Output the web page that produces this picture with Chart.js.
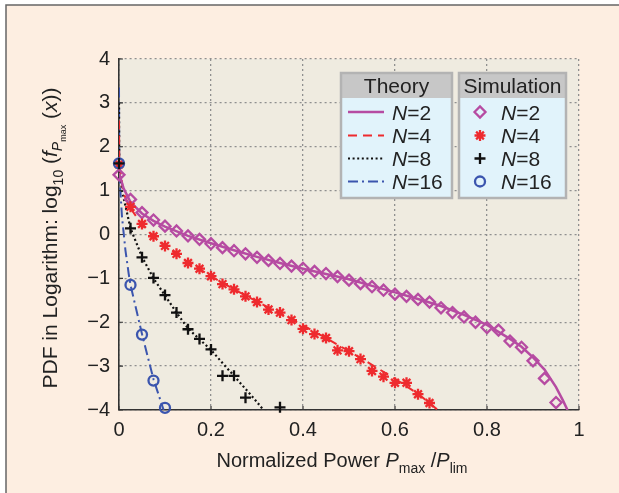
<!DOCTYPE html>
<html>
<head>
<meta charset="utf-8">
<script src="https://cdn.jsdelivr.net/npm/chart.js@4/dist/chart.umd.min.js"></script>
<style>
html, body { margin: 0; padding: 0; background: #fff; }
#wrap { position: relative; width: 619px; height: 493px; }
</style>
</head>
<body>
<div id="wrap"><canvas id="chart"></canvas></div>
<script>
// theory curves (log10 of pdf)
const theoryX2 = [0, 0.01, 0.025, 0.05, 0.075, 0.1, 0.15, 0.2, 0.25, 0.3, 0.35, 0.4, 0.45, 0.5, 0.55, 0.6, 0.65, 0.7, 0.75, 0.8, 0.85, 0.875, 0.9, 0.925, 0.95, 0.965, 0.975];
const theoryY2 = [1.4, 1.05, 0.74, 0.48, 0.31, 0.18, -0.03, -0.2, -0.36, -0.51, -0.65, -0.78, -0.9, -1.02, -1.17, -1.32, -1.47, -1.63, -1.83, -2.06, -2.38, -2.56, -2.8, -3.08, -3.48, -3.78, -4.0];
const theoryX4 = [0, 0.0005, 0.01, 0.025, 0.05, 0.075, 0.1, 0.15, 0.2, 0.25, 0.3, 0.35, 0.4, 0.45, 0.5, 0.55, 0.6, 0.65, 0.693];
const theoryY4 = [2.6, 1.62, 0.93, 0.6, 0.22, -0.05, -0.27, -0.63, -0.95, -1.25, -1.53, -1.8, -2.07, -2.36, -2.66, -2.97, -3.29, -3.63, -4.0];
const theoryX8 = [0, 0.0005, 0.0065, 0.025, 0.05, 0.075, 0.1, 0.125, 0.15, 0.175, 0.2, 0.225, 0.25, 0.275, 0.3, 0.314];
const theoryY8 = [3.0, 1.62, 1.0, 0.14, -0.51, -1.0, -1.39, -1.78, -2.14, -2.39, -2.63, -2.93, -3.22, -3.52, -3.82, -4.0];
const theoryX16 = [0, 0.0005, 0.003, 0.0065, 0.014, 0.021, 0.025, 0.05, 0.075, 0.097];
const theoryY16 = [3.35, 1.62, 1.0, 0.4, -0.36, -0.89, -1.15, -2.27, -3.3, -4.0];

// simulation points
const simX2 = [0, 0.025, 0.05, 0.075, 0.1, 0.125, 0.15, 0.175, 0.2, 0.225, 0.25, 0.275, 0.3, 0.325, 0.35, 0.375, 0.4, 0.425, 0.45, 0.475, 0.5, 0.525, 0.55, 0.575, 0.6, 0.625, 0.65, 0.675, 0.7, 0.725, 0.75, 0.775, 0.8, 0.825, 0.85, 0.875, 0.9, 0.925, 0.95];
const simY2 = [1.36, 0.8, 0.5, 0.33, 0.19, 0.08, -0.03, -0.11, -0.21, -0.3, -0.37, -0.44, -0.52, -0.59, -0.66, -0.72, -0.77, -0.84, -0.89, -0.96, -1.04, -1.12, -1.19, -1.27, -1.36, -1.41, -1.48, -1.54, -1.67, -1.78, -1.88, -2.0, -2.12, -2.18, -2.43, -2.57, -2.88, -3.28, -3.83];
const simX4 = [0, 0.025, 0.05, 0.075, 0.1, 0.125, 0.15, 0.175, 0.2, 0.225, 0.25, 0.275, 0.3, 0.325, 0.35, 0.375, 0.4, 0.425, 0.45, 0.475, 0.5, 0.525, 0.55, 0.575, 0.6, 0.625, 0.65, 0.675];
const simY4 = [1.6, 0.63, 0.24, -0.04, -0.26, -0.44, -0.65, -0.78, -0.95, -1.13, -1.25, -1.41, -1.54, -1.71, -1.78, -1.95, -2.15, -2.27, -2.36, -2.64, -2.66, -2.84, -3.11, -3.24, -3.38, -3.38, -3.64, -3.84];
const simX8 = [0, 0.025, 0.05, 0.075, 0.1, 0.125, 0.15, 0.175, 0.2, 0.225, 0.25, 0.275, 0.35];
const simY8 = [1.62, 0.14, -0.52, -0.99, -1.38, -1.78, -2.16, -2.38, -2.62, -3.22, -3.22, -3.72, -3.94];
const simX16 = [0, 0.025, 0.05, 0.075, 0.1];
const simY16 = [1.62, -1.15, -2.28, -3.33, -3.95];

const nLabels = ["2", "4", "8", "16"];
const xTicks = [0, 0.2, 0.4, 0.6, 0.8, 1];
const yTicks = [-4, -3, -2, -1, 0, 1, 2, 3, 4];

const colMag = "#b64ba2";
const colRed = "#ee2a2e";
const colBlk = "#111111";
const colBlu = "#3b55ae";
const FONT = '"Liberation Sans", Arial, sans-serif';

function pts(xs, ys) {
  return xs.map((x, i) => ({ x: x, y: ys[i] }));
}

const theorySets = [
  { data: pts(theoryX2, theoryY2), borderColor: colMag, borderWidth: 2.5, borderDash: [] },
  { data: pts(theoryX4, theoryY4), borderColor: colRed, borderWidth: 2, borderDash: [9, 6] },
  { data: pts(theoryX8, theoryY8), borderColor: colBlk, borderWidth: 2.2, borderDash: [2, 2.6] },
  { data: pts(theoryX16, theoryY16), borderColor: colBlu, borderWidth: 2, borderDash: [10, 4, 2, 4] }
].map(d => Object.assign(d, { showLine: true, pointRadius: 0, fill: false, order: 10, tension: 0 }));

// lower order is drawn on top: plus, then circle, then star, then diamond
const simSets = [
  { data: pts(simX2, simY2), borderColor: colMag, pointStyle: "rectRot", pointRadius: 5.5, order: 4 },
  { data: pts(simX4, simY4), borderColor: colRed, pointStyle: "star", pointRadius: 5.5, order: 3 },
  { data: pts(simX8, simY8), borderColor: colBlk, pointStyle: "cross", pointRadius: 5.5, order: 1 },
  { data: pts(simX16, simY16), borderColor: colBlu, pointStyle: "circle", pointRadius: 5, order: 2 }
].map(d => Object.assign(d, { showLine: false, backgroundColor: "rgba(0,0,0,0)", pointBorderWidth: 2.3, pointBorderColor: d.borderColor, clip: false }));

// draw text made of runs (italic, subscripts)
function runsWidth(ctx, runs) {
  let w = 0;
  runs.forEach(r => {
    ctx.font = (r.it ? "italic " : "") + r.s + "px " + FONT;
    w += ctx.measureText(r.t).width;
  });
  return w;
}
function drawRuns(ctx, runs, x, y) {
  runs.forEach(r => {
    ctx.font = (r.it ? "italic " : "") + r.s + "px " + FONT;
    ctx.fillText(r.t, x, y + (r.dy || 0));
    x += ctx.measureText(r.t).width;
  });
}

const framePlugin = {
  id: "frame",
  beforeDraw(chart) {
    const ctx = chart.ctx, a = chart.chartArea;
    ctx.save();
    ctx.fillStyle = "#ffffff";
    ctx.fillRect(0, 0, chart.width, chart.height);
    ctx.fillStyle = "#fdeee1";
    ctx.fillRect(6, 5, chart.width, chart.height);
    ctx.strokeStyle = "#666";
    ctx.lineWidth = 1.5;
    ctx.strokeRect(6, 5, chart.width + 10, chart.height + 10);
    ctx.fillStyle = "#efebe0";
    ctx.fillRect(a.left, a.top, a.right - a.left, a.bottom - a.top);
    ctx.restore();
  },
  afterDraw(chart) {
    const ctx = chart.ctx, a = chart.chartArea;
    const xs = chart.scales.x, ys = chart.scales.y;
    ctx.save();
    // inward tick marks
    ctx.strokeStyle = "#333";
    ctx.lineWidth = 1.2;
    ctx.beginPath();
    yTicks.forEach(v => {
      const y = ys.getPixelForValue(v);
      ctx.moveTo(a.left, y); ctx.lineTo(a.left + 4, y);
    });
    xTicks.forEach(v => {
      const x = xs.getPixelForValue(v);
      ctx.moveTo(x, a.bottom); ctx.lineTo(x, a.bottom - 4);
    });
    ctx.stroke();

    // axis titles
    ctx.fillStyle = "#222";
    ctx.textBaseline = "alphabetic";
    ctx.textAlign = "left";
    const xt = [
      { t: "Normalized Power ", s: 20 },
      { t: "P", s: 20, it: true },
      { t: "max", s: 14, dy: 6 },
      { t: " /", s: 20 },
      { t: "P", s: 20, it: true },
      { t: "lim", s: 14, dy: 6 }
    ];
    const xw = runsWidth(ctx, xt);
    drawRuns(ctx, xt, 342 - xw / 2, 467);

    const yt = [
      { t: "PDF in Logarithm: log", s: 21 },
      { t: "10", s: 14, dy: 6 },
      { t: " (", s: 21 },
      { t: "f", s: 21, it: true },
      { t: "P", s: 14, it: true, dy: 5 },
      { t: "max", s: 9, dy: 9 },
      { t: " (", s: 21 },
      { t: "x", s: 21, it: true },
      { t: "))", s: 21 }
    ];
    const yw = runsWidth(ctx, yt);
    ctx.save();
    ctx.translate(57, 238);
    ctx.rotate(-Math.PI / 2);
    drawRuns(ctx, yt, -yw / 2, 0);
    ctx.restore();

    // legends
    drawLegendBox(ctx, 341, 73, 111, 125, "Theory", (i, cy) => {
      const d = theorySets[i];
      ctx.save();
      ctx.strokeStyle = d.borderColor;
      ctx.lineWidth = d.borderWidth;
      ctx.setLineDash(d.borderDash);
      ctx.beginPath();
      ctx.moveTo(348, cy); ctx.lineTo(384, cy);
      ctx.stroke();
      ctx.restore();
    }, 392);
    drawLegendBox(ctx, 459, 73, 107, 125, "Simulation", (i, cy) => {
      const d = simSets[i];
      ctx.save();
      ctx.strokeStyle = d.borderColor;
      ctx.fillStyle = "rgba(0,0,0,0)";
      ctx.lineWidth = 2.3;
      Chart.helpers.drawPoint(ctx, { pointStyle: d.pointStyle, radius: d.pointRadius, borderWidth: 2.3, rotation: 0 }, 480, cy);
      ctx.restore();
    }, 501);
    ctx.restore();
  }
};

function drawLegendBox(ctx, x, y, w, h, head, sample, textX) {
  ctx.save();
  ctx.fillStyle = "#e1f3fb";
  ctx.fillRect(x, y, w, h);
  ctx.fillStyle = "#c7c7c7";
  ctx.fillRect(x, y, w, 25);
  ctx.strokeStyle = "#b3b3b3";
  ctx.lineWidth = 2.5;
  ctx.strokeRect(x, y, w, h);
  ctx.fillStyle = "#222";
  ctx.textAlign = "center";
  ctx.textBaseline = "alphabetic";
  ctx.font = "21px " + FONT;
  ctx.fillText(head, x + w / 2, y + 20);
  ctx.textAlign = "left";
  const rows = [112, 135.5, 158.5, 181.5];
  nLabels.forEach((n, i) => {
    sample(i, rows[i]);
    ctx.fillStyle = "#222";
    drawRuns(ctx, [{ t: "N", s: 21, it: true }, { t: "=" + n, s: 21 }], textX, rows[i] + 7.5);
  });
  ctx.restore();
}

new Chart(document.getElementById("chart"), {
  type: "scatter",
  data: { datasets: simSets.concat(theorySets) },
  options: {
    responsive: true,
    maintainAspectRatio: false,
    animation: false,
    devicePixelRatio: 1,
    layout: { padding: { left: 0, top: 59, right: 40, bottom: 0 } },
    plugins: { legend: { display: false }, tooltip: { enabled: false }, title: { display: false } },
    scales: {
      x: {
        type: "linear", min: 0, max: 1,
        afterFit: s => { s.height = 83; },
        afterBuildTicks: s => { s.ticks = xTicks.map(v => ({ value: v })); },
        ticks: { padding: 8, color: "#222", font: { family: FONT, size: 20 }, callback: v => String(Number(v.toFixed(1))) },
        grid: { color: "#8f8f8f", lineWidth: 1.3, drawTicks: false },
        border: { display: true, color: "#333", width: 1.6, dash: [2, 3] }
      },
      y: {
        type: "linear", min: -4, max: 4,
        afterFit: s => { s.width = 119; },
        afterBuildTicks: s => { s.ticks = yTicks.map(v => ({ value: v })); },
        ticks: { padding: 9, color: "#222", font: { family: FONT, size: 20 }, callback: v => String(v).replace("-", "\u2212") },
        grid: { color: "#8f8f8f", lineWidth: 1.3, drawTicks: false },
        border: { display: true, color: "#333", width: 1.6, dash: [2, 3] }
      }
    }
  },
  plugins: [framePlugin]
});
</script>
</body>
</html>
